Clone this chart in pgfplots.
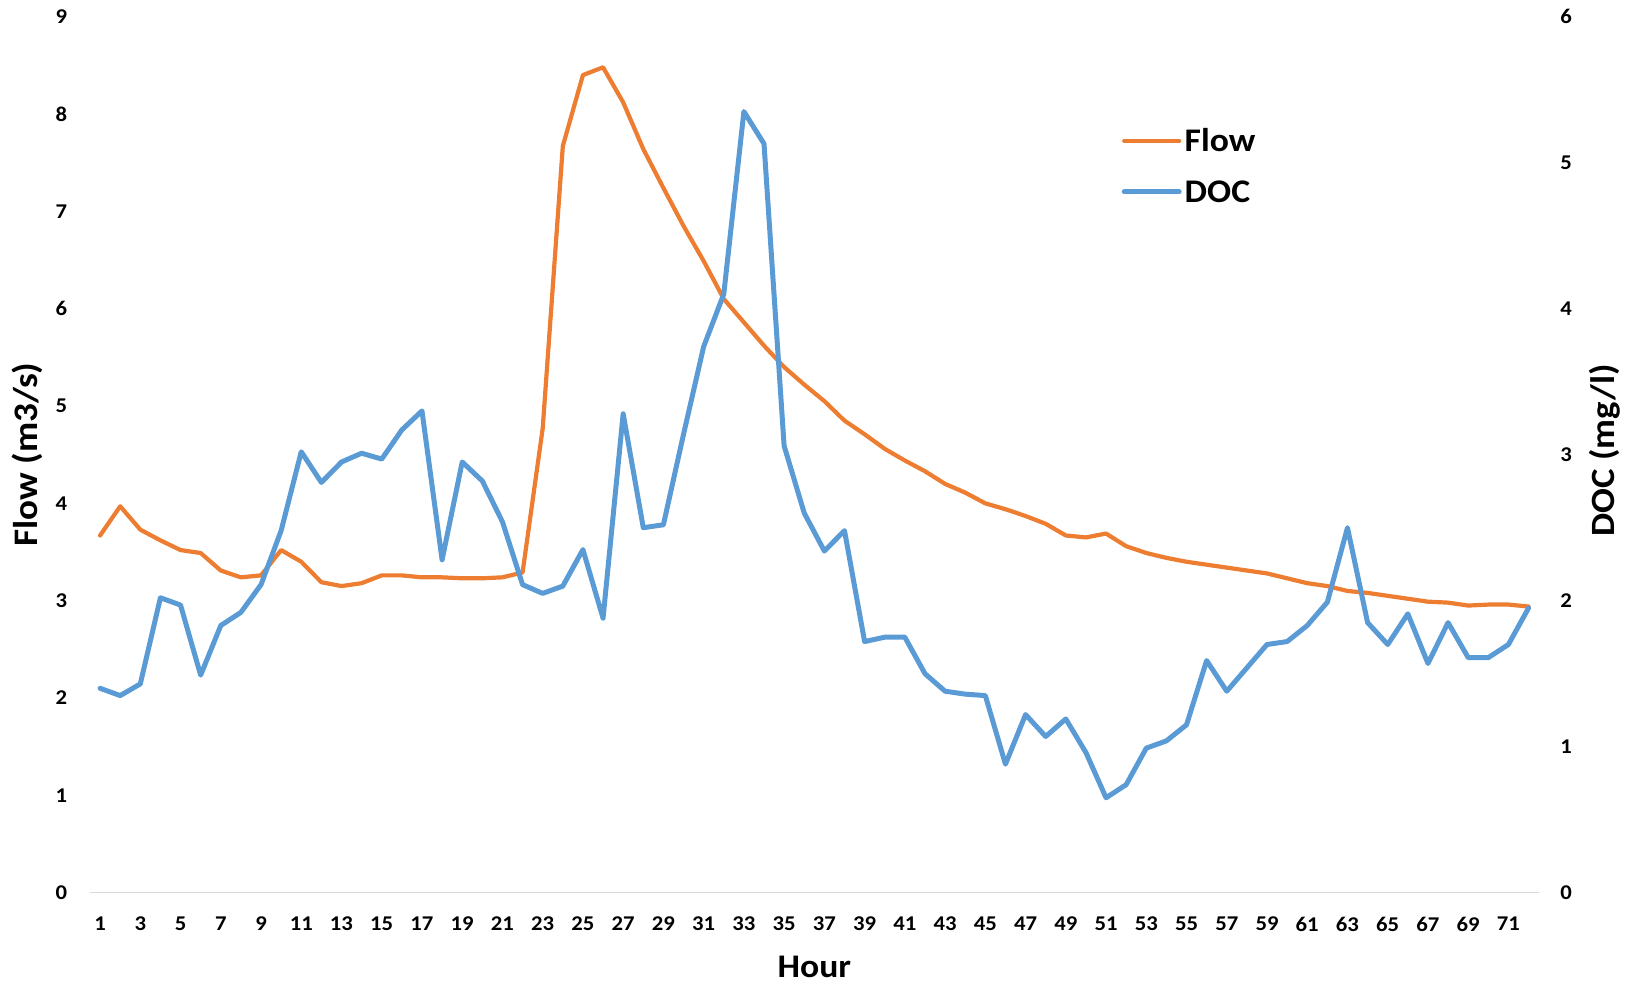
\documentclass[border=0pt]{standalone}
\usepackage{pgfplots}
\pgfplotsset{compat=1.18}
\usepackage{pgfplotstable}
\usepackage{fontspec}
\setmainfont{Carlito}[FakeStretch=1.08]
\definecolor{flowc}{HTML}{ED7D31}
\definecolor{docc}{HTML}{5B9BD5}
\definecolor{axgray}{HTML}{D9D9D9}

\pgfplotstableread{
h flow doc
1 3.67 1.40
2 3.97 1.35
3 3.73 1.43
4 3.62 2.02
5 3.52 1.97
6 3.49 1.49
7 3.31 1.83
8 3.24 1.92
9 3.26 2.11
10 3.52 2.48
11 3.40 3.02
12 3.19 2.81
13 3.15 2.95
14 3.18 3.01
15 3.26 2.97
16 3.26 3.17
17 3.24 3.30
18 3.24 2.28
19 3.23 2.95
20 3.23 2.82
21 3.24 2.54
22 3.29 2.11
23 4.77 2.05
24 7.67 2.10
25 8.40 2.35
26 8.48 1.88
27 8.12 3.28
28 7.64 2.50
29 7.24 2.52
30 6.85 3.14
31 6.49 3.74
32 6.10 4.10
33 5.86 5.35
34 5.62 5.13
35 5.40 3.06
36 5.22 2.60
37 5.05 2.34
38 4.85 2.48
39 4.71 1.72
40 4.56 1.75
41 4.44 1.75
42 4.33 1.50
43 4.20 1.38
44 4.11 1.36
45 4.00 1.35
46 3.94 0.88
47 3.87 1.22
48 3.79 1.07
49 3.67 1.19
50 3.65 0.96
51 3.69 0.65
52 3.56 0.74
53 3.49 0.99
54 3.44 1.04
55 3.40 1.15
56 3.37 1.59
57 3.34 1.38
58 3.31 1.54
59 3.28 1.70
60 3.23 1.72
61 3.18 1.83
62 3.15 1.99
63 3.10 2.50
64 3.08 1.85
65 3.05 1.70
66 3.02 1.91
67 2.99 1.57
68 2.98 1.85
69 2.95 1.61
70 2.96 1.61
71 2.96 1.70
72 2.94 1.95
}\datatable

\pgfplotsset{
  common/.style={
    width=724.3pt, height=438pt, scale only axis,
    xmin=0.5, xmax=72.5,
    /pgf/number format/assume math mode=true,
    tick style={draw=none},
    ticklabel style={font=\bfseries\fontsize{10.5}{12}\selectfont},
  },
  flowstyle/.style={color=flowc, line width=2.1pt, line join=round, line cap=round},
  docstyle/.style={color=docc, line width=2.5pt, line join=round, line cap=round},
}

\begin{document}
\begin{tikzpicture}
\begin{axis}[common, name=ax1,
  ymin=0, ymax=9, ytick={0,1,...,9},
  xtick={1,3,...,71},
  axis x line*=bottom, axis y line*=left,
  x axis line style={draw=axgray, line width=0.8pt, -},
  y axis line style={draw=none},
  xticklabel style={anchor=north, inner sep=0pt, yshift=-12pt},
  yticklabel style={anchor=east, inner sep=0pt, xshift=-11.3pt},
  xlabel={Hour},
  xlabel style={at={(axis description cs:0.5,0)}, anchor=base, yshift=-42.3pt,
    font=\bfseries\fontsize{16.5}{19}\selectfont},
  ylabel={Flow (m3/s)},
  ylabel style={at={(axis description cs:-0.0362,0.5)}, anchor=base, rotate=0,
    font=\bfseries\fontsize{17.2}{19}\selectfont},
]
\addplot[flowstyle] table[x=h, y=flow] {\datatable};
\end{axis}
\begin{axis}[common,
  ymin=0, ymax=6, ytick={0,1,...,6},
  axis y line*=right, axis x line=none,
  y axis line style={draw=none},
  yticklabel style={anchor=west, inner sep=0pt, xshift=10.7pt},
  ylabel={DOC (mg/l)},
  ylabel style={at={(axis description cs:1.0525,0.505)}, anchor=base, rotate=0,
    font=\bfseries\fontsize{17}{19}\selectfont},
  legend image code/.code={\draw[#1] (0pt,0pt) -- (27.5pt,0pt);},
  legend style={draw=none, fill=none, inner sep=0pt, outer sep=0pt,
    at={(0.7122,0.8291)}, anchor=west,
    row sep=15.2pt, column sep=1.5pt,
    font=\bfseries\fontsize{16.5}{19}\selectfont,
    nodes={inner sep=0pt, text height=10.4pt, text depth=0pt},
    cells={anchor=west}},
]
\addlegendimage{flowstyle}
\addlegendentry{Flow}
\addplot[docstyle] table[x=h, y=doc] {\datatable};
\addlegendentry{DOC}
\end{axis}
\pgfresetboundingbox
\path[use as bounding box] ([shift={(-45pt,-45.2pt)}]ax1.south west) rectangle ([shift={(48.2pt,8.35pt)}]ax1.north east);
\end{tikzpicture}
\end{document}
